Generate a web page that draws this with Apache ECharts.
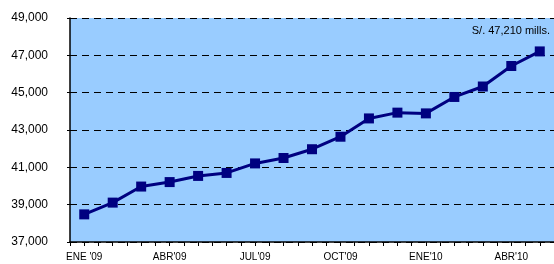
<!DOCTYPE html>
<html><head><meta charset="utf-8">
<script src="https://cdn.jsdelivr.net/npm/echarts@6/dist/echarts.min.js"></script>
<style>html,body{margin:0;padding:0;background:#fff}#c{width:554px;height:264px}</style>
</head><body><div id="c"></div>
<script>
const months = ["ENE '09","FEB'09","MAR'09","ABR'09","MAY'09","JUN'09","JUL'09","AGO'09","SET'09","OCT'09","NOV'09","DIC'09","ENE'10","FEB'10","MAR'10","ABR'10","MAY'10"];
const values = [38480, 39110, 39970, 40210, 40540, 40700, 41210, 41500, 41970, 42640, 43620, 43930, 43890, 44770, 45330, 46430, 47210];
const yTicks = {min: 37000, max: 49000, step: 2000};
const note = "S/. 47,210 mills.";
const halfCats = months.flatMap(m => [m + "a", m + "b"]);

const chart = echarts.init(document.getElementById('c'), null, {renderer: 'canvas'});
chart.setOption({
  animation: false,
  grid: {left: 70, top: 18, right: -2, bottom: 22, show: true, backgroundColor: '#99CCFF', borderWidth: 0},
  xAxis: [{
    type: 'category', data: months, boundaryGap: true,
    axisLine: {lineStyle: {color: '#000', width: 1.5}},
    axisTick: {show: false},
    axisLabel: {interval: 2, color: '#000', fontFamily: 'Liberation Sans, Arial', fontSize: 10, margin: 10}
  }, {
    type: 'category', data: halfCats, boundaryGap: true, position: 'bottom',
    axisLine: {show: false},
    axisTick: {show: true, interval: 0, inside: false, length: 4, lineStyle: {color: '#000'}},
    axisLabel: {show: false}
  }],
  yAxis: {
    type: 'value', min: yTicks.min, max: yTicks.max, interval: yTicks.step,
    axisLine: {show: true, lineStyle: {color: '#000', width: 1.5}},
    axisTick: {show: true, length: 3, lineStyle: {color: '#000'}},
    axisLabel: {color: '#000', fontFamily: 'Liberation Sans, Arial', fontSize: 12, margin: 22,
      formatter: v => v.toLocaleString('en-US')},
    splitLine: {show: true, lineStyle: {color: '#000', type: [7, 5], width: 1}}
  },
  series: [{
    type: 'line', data: values, xAxisIndex: 0,
    lineStyle: {color: '#000080', width: 3},
    itemStyle: {color: '#000080'},
    symbol: 'rect', symbolSize: 10, showAllSymbol: true
  }],
  graphic: [{
    type: 'text', right: 4, top: 25,
    style: {text: note, fill: '#000', font: '11px Liberation Sans, Arial'}
  }]
});
</script></body></html>
